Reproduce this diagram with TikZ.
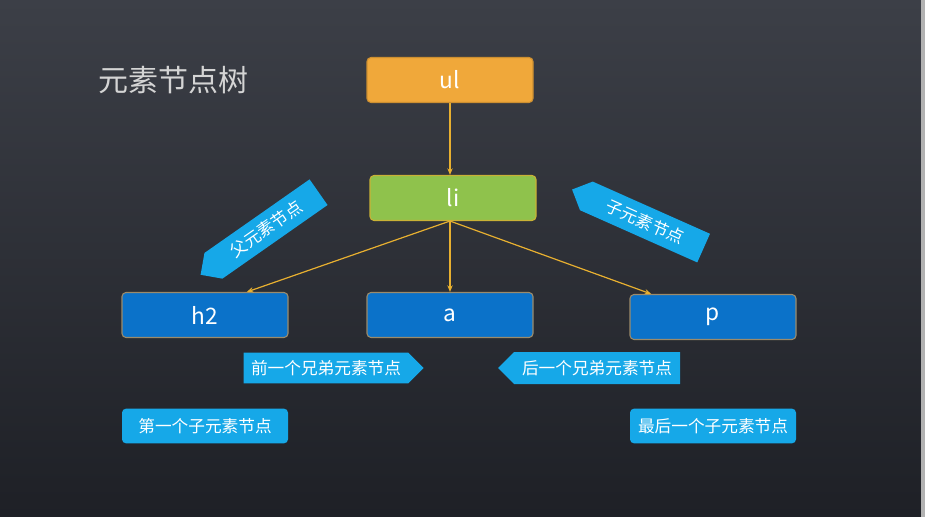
\documentclass[tikz,border=0pt]{standalone}
\usepackage{fontspec}
\setmainfont{Noto Sans CJK SC}
\usetikzlibrary{arrows.meta,positioning,shapes.symbols,calc}

\definecolor{bgtop}{HTML}{3C3F47}
\definecolor{bgbot}{HTML}{1E2026}
\definecolor{ulfill}{HTML}{F0A83A}
\definecolor{lifill}{HTML}{8FC24C}
\definecolor{liedge}{HTML}{C9B236}
\definecolor{elfill}{HTML}{0B72C9}
\definecolor{eledge}{HTML}{9C8B6A}
\definecolor{tagfill}{HTML}{16A8E8}
\definecolor{wire}{HTML}{E8B030}
\definecolor{titlegrey}{HTML}{D4D4D4}

\begin{document}
\begin{tikzpicture}[
    x=0.75pt, y=-0.75pt,
    >={Stealth[length=5pt,width=4pt]},
    elem/.style={rectangle,rounded corners=3pt,draw=eledge,line width=0.8pt,
        fill=elfill,text=white,minimum width=124.5pt,minimum height=33.75pt,
        inner sep=0pt,font=\fontsize{17}{19}\selectfont},
    tag/.style={fill=tagfill,text=white,inner sep=0pt,
        font=\fontsize{12.5}{14}\selectfont},
    pointer/.style={tag,signal,minimum width=108pt,minimum height=23.5pt},
    wired/.style={draw=wire,->,line width=0.9pt}
]
% background
\fill[top color=bgtop,bottom color=bgbot] (0,0) rectangle (925,517);
\fill[gray!60] (921,0) rectangle (925,517);
\useasboundingbox (0,0) rectangle (925,517);

\node[text=titlegrey,anchor=west,font=\fontsize{22.5}{24}\selectfont] (title) at (94,80) {元素节点树};

% element nodes
\node[elem,fill=ulfill,draw=ulfill!85!black] (ul) at (450,80) {ul};
\node[elem,fill=lifill,draw=liedge] (li) at (453,198) {li};
\node[elem] (h2) at (205,315) {h2};
\node[elem] (a) at (450,315) {a};
\node[elem] (p) at (713,317) {p};

\draw[wired] (ul) -- (li.north -| ul);
\draw[wired] (li.south -| ul) -- ($(h2.north west)!0.75!(h2.north east)$);
\draw[wired] (li.south -| ul) -- (a.north -| ul);
\draw[wired] (li.south -| ul) -- ($(p.north west)!0.13!(p.north east)$);

% relation labels
\node[pointer,signal to=west,rotate=35] (parent) at (266,229) {父元素节点};
\node[pointer,signal to=west,rotate=-24] (child) at (645,222) {子元素节点};
\node[pointer,signal to=east,minimum width=135pt,minimum height=23pt] (prev) at (326,368) {前一个兄弟元素节点};
\node[pointer,signal to=west,minimum width=136.5pt,minimum height=24pt] (next) at (597,368) {后一个兄弟元素节点};
\node[tag,rounded corners=3pt,minimum width=124.5pt,minimum height=26pt] (first) at (205,426) {第一个子元素节点};
\node[tag,rounded corners=3pt,minimum width=124.5pt,minimum height=26pt] (last) at (713,426) {最后一个子元素节点};
\end{tikzpicture}
\end{document}
